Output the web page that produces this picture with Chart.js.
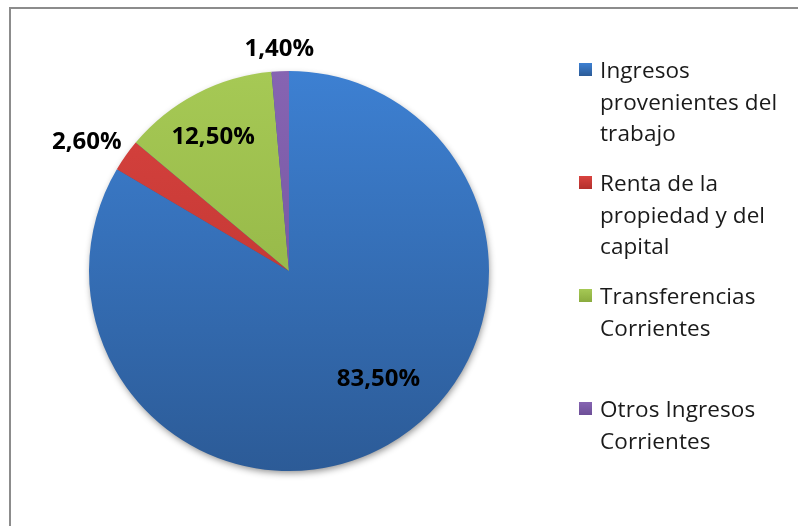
<!DOCTYPE html>
<html>
<head>
<meta charset="utf-8">
<script src="https://cdn.jsdelivr.net/npm/chart.js@4.4.0/dist/chart.umd.min.js"></script>
<style>
  html, body { margin: 0; padding: 0; background: #fff; overflow: hidden; }
  #wrap { position: relative; width: 798px; height: 526px; }
  #frame { position: absolute; left: 9px; top: 7px; width: 820px; height: 560px; border: 2px solid #8c8c8c; box-sizing: border-box; }
  #chart { position: absolute; left: 0; top: 0; }
  #legend { position: absolute; left: 579px; top: 54px; font-family: "Open Sans", Lato, sans-serif; font-size: 22.5px; letter-spacing: 0.1px; color: #1a1a1a; }
  .item { position: relative; height: 113px; padding-left: 21px; line-height: 31.5px; }
  .box { position: absolute; left: 0; top: 9px; width: 13px; height: 13px; }
</style>
</head>
<body>
<div id="wrap">
  <div id="frame"></div>
  <canvas id="chart" width="798" height="526"></canvas>
  <div id="legend"></div>
</div>
<script>
// data
var categories = [
  ['Ingresos', 'provenientes del', 'trabajo'],
  ['Renta de la', 'propiedad y del', 'capital'],
  ['Transferencias', 'Corrientes'],
  ['Otros Ingresos', 'Corrientes']
];
var shares = [83.5, 2.6, 12.5, 1.4];
var valueLabels = ['83,50%', '2,60%', '12,50%', '1,40%'];

// colours (top, bottom of gradient)
var topColors = ['#3d80d2', '#d9433f', '#a6c955', '#8664b2'];
var bottomColors = ['#2c5b97', '#b3302c', '#8aab3e', '#6d4f97'];
// label placement: distance from centre (share of radius) and turn from mid-angle (degrees)
var labelDist = [0.7, 1.2, 0.77, 1.11];
var labelTurn = [-10, -2.7, -2, 0];

function sliceFill(ctx) {
  var chart = ctx.chart;
  var area = chart.chartArea;
  if (!area) return topColors[ctx.dataIndex];
  var g = chart.ctx.createLinearGradient(0, area.top, 0, area.bottom);
  g.addColorStop(0, topColors[ctx.dataIndex]);
  g.addColorStop(1, bottomColors[ctx.dataIndex]);
  return g;
}

var shadowPlugin = {
  id: 'pieShadow',
  beforeDatasetsDraw: function (chart) {
    var arc = chart.getDatasetMeta(0).data[0];
    if (!arc) return;
    var c = chart.ctx;
    c.save();
    c.shadowColor = 'rgba(0,0,0,0.45)';
    c.shadowBlur = 7;
    c.shadowOffsetX = 1;
    c.shadowOffsetY = 3;
    c.fillStyle = '#2c5b97';
    c.beginPath();
    c.arc(arc.x, arc.y, arc.outerRadius - 1, 0, Math.PI * 2);
    c.fill();
    c.restore();
  }
};

var labelPlugin = {
  id: 'sliceLabels',
  afterDatasetsDraw: function (chart) {
    var c = chart.ctx;
    var arcs = chart.getDatasetMeta(0).data;
    c.save();
    c.font = 'bold 24px "Open Sans", Lato, sans-serif';
    c.fillStyle = '#000';
    c.textAlign = 'center';
    c.textBaseline = 'middle';
    arcs.forEach(function (arc, i) {
      var mid = (arc.startAngle + arc.endAngle) / 2 + labelTurn[i] * Math.PI / 180;
      var r = arc.outerRadius * labelDist[i];
      c.fillText(valueLabels[i], arc.x + Math.cos(mid) * r, arc.y + Math.sin(mid) * r);
    });
    c.restore();
  }
};

new Chart(document.getElementById('chart'), {
  type: 'pie',
  data: {
    labels: categories.map(function (l) { return l.join(' '); }),
    datasets: [{
      data: shares,
      backgroundColor: sliceFill,
      borderWidth: 0
    }]
  },
  options: {
    responsive: false,
    animation: false,
    layout: { padding: { left: 89, top: 71, right: 309, bottom: 55 } },
    plugins: {
      legend: { display: false },
      tooltip: { enabled: false }
    }
  },
  plugins: [shadowPlugin, labelPlugin]
});

// legend built from the same arrays
var legend = document.getElementById('legend');
categories.forEach(function (lines, i) {
  var item = document.createElement('div');
  item.className = 'item';
  var box = document.createElement('div');
  box.className = 'box';
  box.style.background = 'linear-gradient(' + topColors[i] + ',' + bottomColors[i] + ')';
  item.appendChild(box);
  item.innerHTML += lines.join('<br>');
  legend.appendChild(item);
});
</script>
</body>
</html>
